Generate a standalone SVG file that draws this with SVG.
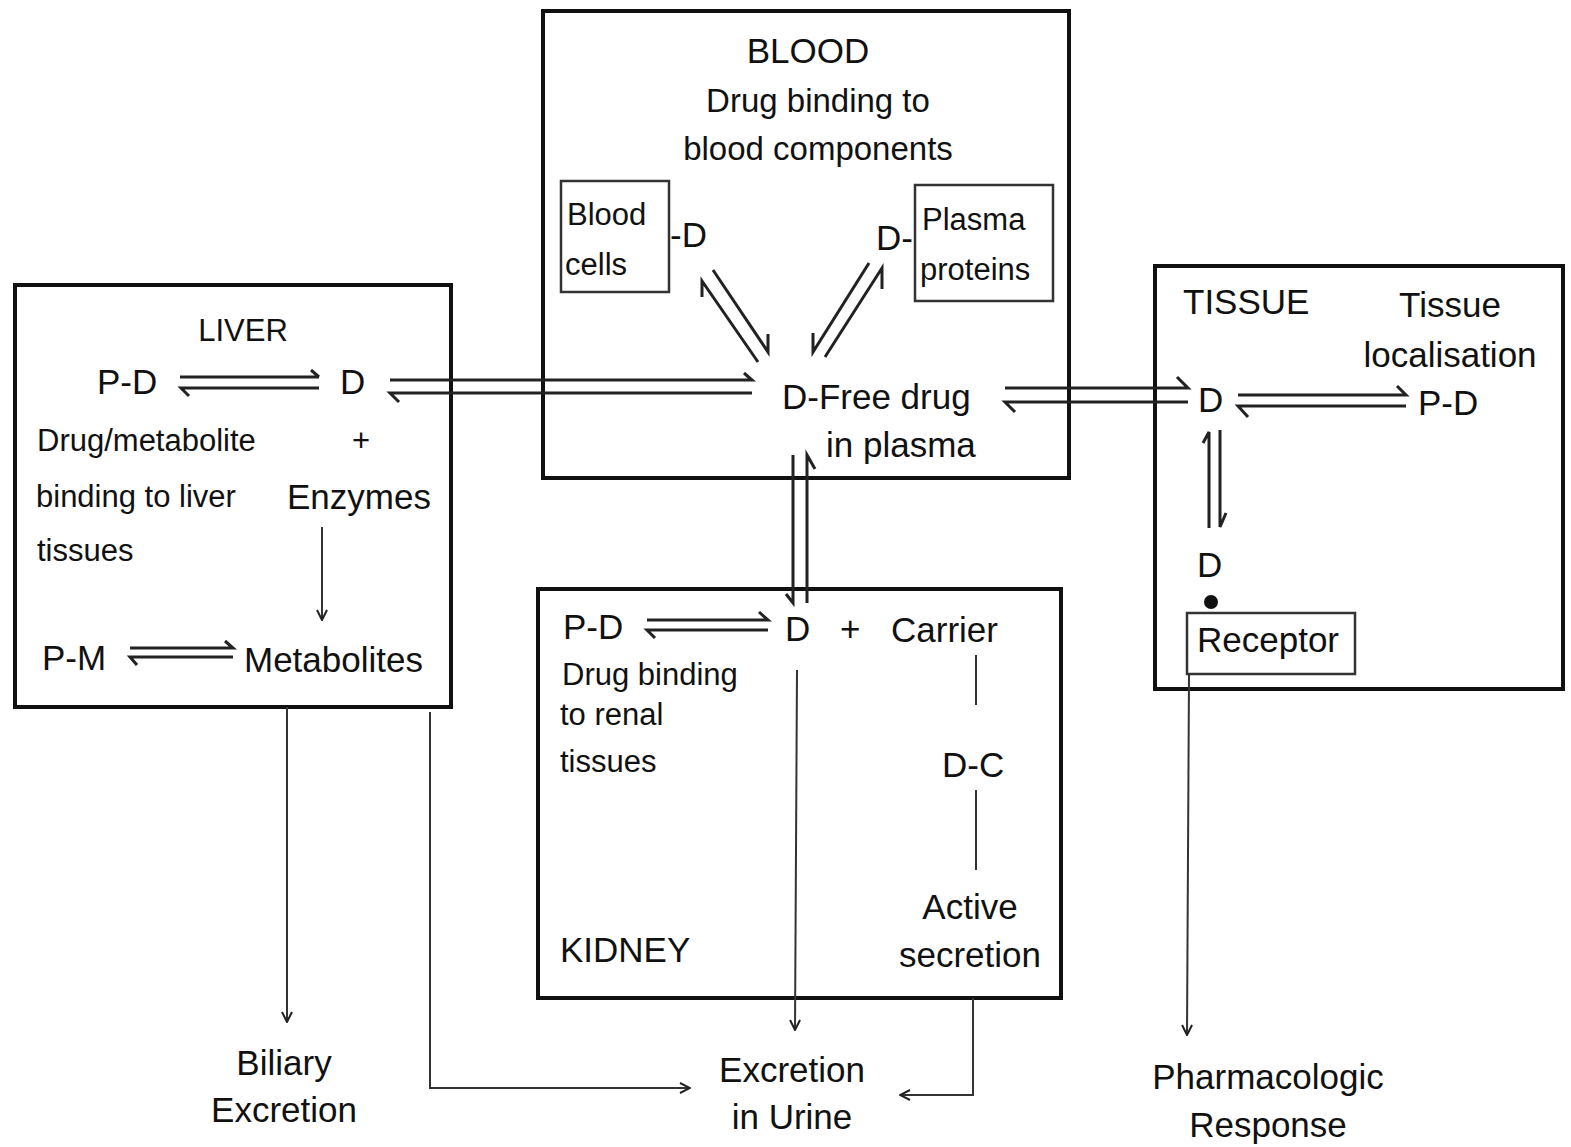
<svg xmlns="http://www.w3.org/2000/svg" width="1571" height="1147" viewBox="0 0 1571 1147">
<defs>
<style>
text{font-family:"Liberation Sans",Arial,sans-serif;fill:#111;font-size:35px}
.s{font-size:31px}
.m{font-size:33px}
.c{text-anchor:middle}
.box{fill:none;stroke:#111;stroke-width:4}
.ibox{fill:none;stroke:#333;stroke-width:2.5}
.ln{fill:none;stroke:#222;stroke-width:3}
.th{fill:none;stroke:#333;stroke-width:2}
</style>
<marker id="ah" viewBox="0 0 12 12" refX="11" refY="6" markerWidth="12" markerHeight="12" markerUnits="userSpaceOnUse" orient="auto">
<path d="M1,1 L11,6 L1,11" fill="none" stroke="#222" stroke-width="2"/>
</marker>
</defs>
<rect width="1571" height="1147" fill="#fff"/>

<g id="blood">
<rect class="box" x="543" y="11" width="526" height="467"/>
<text class="c" x="808" y="63">BLOOD</text>
<text class="m c" x="818" y="112">Drug binding to</text>
<text class="m c" x="818" y="160">blood components</text>
<text x="782" y="409">D-Free drug</text>
<text x="826" y="457">in plasma</text>
</g>
<g id="blood-cells">
<rect class="ibox" x="561" y="181" width="108" height="111"/>
<text class="s" x="567" y="225">Blood</text>
<text class="s" x="565" y="275">cells</text>
<text x="670" y="247">-D</text>
</g>
<g id="plasma-proteins">
<rect class="ibox" x="915" y="185" width="138" height="116"/>
<text class="s" x="922" y="230">Plasma</text>
<text class="s" x="920" y="280">proteins</text>
<text x="876" y="250">D-</text>
</g>

<g id="liver">
<rect class="box" x="15" y="285" width="436" height="422"/>
<text class="s c" x="243" y="341">LIVER</text>
<text x="97" y="394">P-D</text>
<text x="340" y="394">D</text>
<text class="s" x="37" y="451">Drug/metabolite</text>
<text class="s" x="352" y="451">+</text>
<text class="s" x="36" y="507">binding to liver</text>
<text x="287" y="509">Enzymes</text>
<text class="s" x="37" y="561">tissues</text>
<text x="42" y="670">P-M</text>
<text x="244" y="672">Metabolites</text>
</g>

<g id="tissue">
<rect class="box" x="1155" y="266" width="408" height="423"/>
<text x="1183" y="314">TISSUE</text>
<text class="c" x="1450" y="317">Tissue</text>
<text class="c" x="1450" y="367">localisation</text>
<text x="1198" y="412">D</text>
<text x="1418" y="415">P-D</text>
<text x="1197" y="577">D</text>
<circle cx="1211" cy="602" r="7" fill="#111"/>
</g>
<g id="receptor">
<rect class="ibox" x="1187" y="613" width="168" height="61"/>
<text x="1197" y="652">Receptor</text>
</g>

<g id="kidney">
<rect class="box" x="538" y="589" width="523" height="409"/>
<text x="563" y="639">P-D</text>
<text x="785" y="641">D</text>
<text x="840" y="641">+</text>
<text x="891" y="642">Carrier</text>
<text class="s" x="562" y="685">Drug binding</text>
<text class="s" x="560" y="725">to renal</text>
<text class="s" x="560" y="772">tissues</text>
<text x="942" y="777">D-C</text>
<text class="c" x="970" y="919">Active</text>
<text class="c" x="970" y="967">secretion</text>
<text x="560" y="962">KIDNEY</text>
</g>

<g id="biliary">
<text class="c" x="284" y="1075">Biliary</text>
<text class="c" x="284" y="1122">Excretion</text>
</g>
<g id="urine">
<text class="c" x="792" y="1082">Excretion</text>
<text class="c" x="792" y="1129">in Urine</text>
</g>
<g id="response">
<text class="c" x="1268" y="1089">Pharmacologic</text>
<text class="c" x="1268" y="1137">Response</text>
</g>

<g id="connectors">
<!-- liver P-D <=> D -->
<path class="ln" d="M180,377 H319 M319,377 L311,370"/>
<path class="ln" d="M319,388 H181 L189,396"/>
<!-- liver D <=> free drug -->
<path class="ln" d="M390,380 H752 L744,373"/>
<path class="ln" d="M752,393 H390 L399,402"/>
<!-- blood cells <=> free drug -->
<path class="ln" d="M713,270 L768,352 V334"/>
<path class="ln" d="M758,362 L702,281 V297"/>
<!-- plasma proteins <=> free drug -->
<path class="ln" d="M825,357 L882,268 V289"/>
<path class="ln" d="M869,263 L813,352 V333"/>
<!-- free drug <=> tissue D -->
<path class="ln" d="M1005,388 H1188 L1177,377"/>
<path class="ln" d="M1188,402 H1005 L1015,412"/>
<!-- tissue D <=> P-D -->
<path class="ln" d="M1238,395 H1406 L1397,386"/>
<path class="ln" d="M1406,406 H1238 L1248,417"/>
<!-- tissue D <=> D vertical -->
<path class="ln" d="M1209,528 V432 L1203,443"/>
<path class="ln" d="M1220,430 V527 L1226,513"/>
<!-- blood <=> kidney -->
<path class="ln" d="M807,603 V455 L815,469"/>
<path class="ln" d="M793,455 V603 L786,594"/>
<!-- kidney P-D <=> D -->
<path class="ln" d="M647,620 H768 L759,612"/>
<path class="ln" d="M768,630 H647 L655,638"/>
<!-- P-M <=> metabolites -->
<path class="ln" d="M130,648 H233 L225,641"/>
<path class="ln" d="M233,657 H130 L137,665"/>
<!-- enzymes -> metabolites -->
<path class="th" d="M322,527 V620" marker-end="url(#ah)"/>
<!-- carrier - D-C - active secretion -->
<path class="th" d="M976,655 V705 M976,790 V870"/>
<!-- kidney D -> urine -->
<path class="th" d="M797,670 L795,1030" marker-end="url(#ah)"/>
<!-- liver -> biliary -->
<path class="th" d="M287,707 V1022" marker-end="url(#ah)"/>
<!-- liver -> urine -->
<path class="th" d="M430,712 V1088 H690" marker-end="url(#ah)"/>
<!-- active secretion -> urine -->
<path class="th" d="M973,998 V1095 H900" marker-end="url(#ah)"/>
<!-- receptor -> response -->
<path class="th" d="M1189,674 L1187,1035" marker-end="url(#ah)"/>
</g>
</svg>
